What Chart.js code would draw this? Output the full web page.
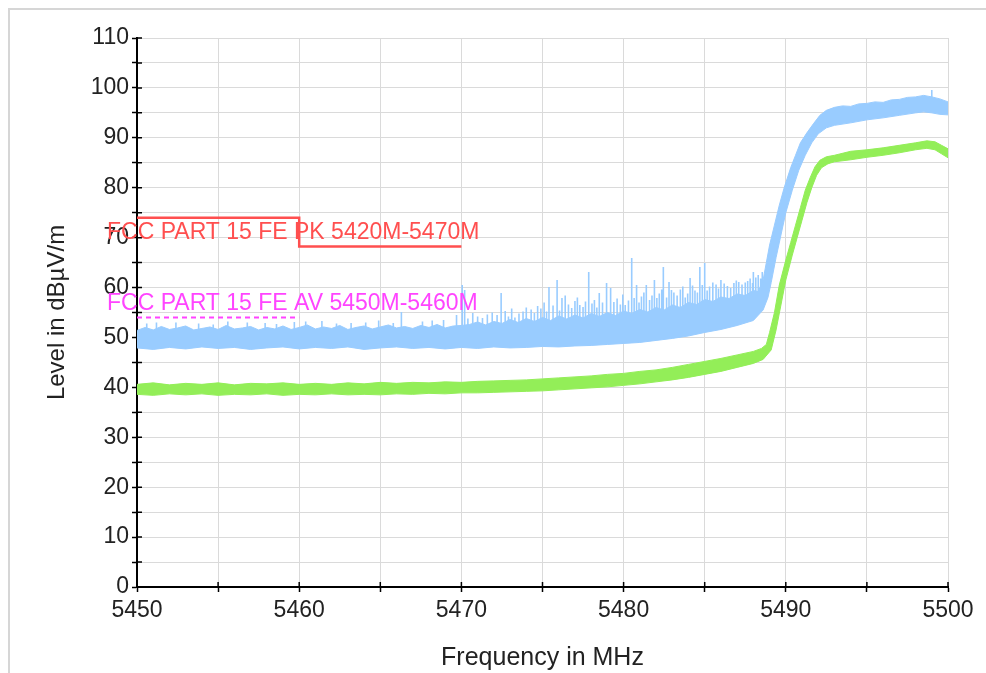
<!DOCTYPE html>
<html>
<head>
<meta charset="utf-8">
<script src="https://cdn.jsdelivr.net/npm/chart.js@4.4.1/dist/chart.umd.min.js"></script>
<style>
  html, body { margin: 0; padding: 0; background: #fff; }
  #wrap { width: 986px; height: 673px; }
</style>
</head>
<body>
<div id="wrap"><canvas id="chart" width="986" height="673"></canvas></div>
<script>
// frequency range and level axis
const freqMin = 5450;
const freqMax = 5500;
const levelMin = 0;
const levelMax = 110;

// limit lines [MHz, dBuV/m]
const pkLimit = [[5450, 74], [5460, 74], [5460, 68.2], [5470, 68.2]];
const avLimit = [[5450, 54], [5460, 54]];
const pkLimitLabel = "FCC PART 15 FE PK 5420M-5470M";
const avLimitLabel = "FCC PART 15 FE AV 5450M-5460M";

// peak trace, top edge of the noise band
const pkUpper = [
    [5450, 51.4], [5450.5, 52.0], [5451, 51.5], [5451.5, 52.2], [5452, 51.6], [5452.5, 51.9],
    [5453, 52.3], [5453.5, 51.5], [5454, 51.8], [5454.5, 52.1], [5455, 51.6], [5455.5, 52.4],
    [5456, 51.7], [5456.5, 51.9], [5457, 52.2], [5457.5, 51.5], [5458, 52.0], [5458.5, 51.7],
    [5459, 52.3], [5459.5, 51.6], [5460, 52.0], [5460.5, 52.5], [5461, 51.7], [5461.5, 52.1],
    [5462, 51.8], [5462.5, 52.4], [5463, 51.6], [5463.5, 52.0], [5464, 52.3], [5464.5, 51.7],
    [5465, 52.1], [5465.5, 52.5], [5466, 51.9], [5466.5, 52.2], [5467, 51.8], [5467.5, 52.4],
    [5468, 52.0], [5468.5, 52.6], [5469, 51.9], [5469.5, 52.3], [5470, 52.4], [5470.5, 52.6],
    [5471, 53.1], [5471.5, 52.5], [5472, 53.2], [5472.5, 52.8], [5473, 53.6], [5473.5, 53.0],
    [5474, 53.8], [5474.5, 53.2], [5475, 54.0], [5475.5, 53.4], [5476, 54.3], [5476.5, 53.7],
    [5477, 54.5], [5477.5, 53.9], [5478, 54.8], [5478.5, 54.2], [5479, 55.0], [5479.5, 54.4],
    [5480, 55.3], [5480.5, 54.8], [5481, 55.6], [5481.5, 55.1], [5482, 56.0], [5482.5, 55.5],
    [5483, 56.5], [5483.5, 56.0], [5484, 57.0], [5484.5, 56.6], [5485, 57.6], [5485.5, 57.2],
    [5486, 58.1], [5486.5, 57.8], [5487, 58.7], [5487.5, 58.4], [5488, 59.4], [5488.3, 59.2],
    [5488.6, 61.5], [5488.8, 65.0], [5489.0, 68.5], [5489.3, 72.5], [5489.6, 76.5], [5489.9, 80.0],
    [5490.3, 84.0], [5490.6, 86.5], [5490.9, 89.0], [5491.3, 91.0], [5491.7, 92.8], [5492.1, 94.5],
    [5492.5, 95.5], [5493, 96.1], [5493.5, 96.4], [5494, 96.3], [5494.5, 96.8], [5495, 96.9],
    [5495.5, 97.2], [5496, 97.1], [5496.5, 97.6], [5497, 97.7], [5497.5, 98.1], [5498, 98.2],
    [5498.5, 98.5], [5499, 98.2], [5499.5, 97.8], [5500, 97.2]
];

// peak trace, bottom edge of the noise band
const pkLower = [
    [5450, 47.9], [5451, 47.6], [5452, 48.0], [5453, 47.7], [5454, 48.1], [5455, 47.8],
    [5456, 48.0], [5457, 47.6], [5458, 47.9], [5459, 48.1], [5460, 47.7], [5461, 48.0],
    [5462, 47.8], [5463, 48.1], [5464, 47.6], [5465, 47.9], [5466, 48.1], [5467, 47.8],
    [5468, 48.0], [5469, 47.7], [5470, 48.0], [5471, 47.8], [5472, 48.1], [5473, 47.9],
    [5474, 48.0], [5475, 48.2], [5476, 48.1], [5477, 48.3], [5478, 48.4], [5479, 48.6],
    [5480, 48.8], [5481, 49.0], [5482, 49.4], [5483, 49.8], [5484, 50.3], [5485, 51.0],
    [5486, 51.6], [5487, 52.4], [5488, 53.4], [5488.6, 55.5], [5488.9, 58.0], [5489.1, 61.0],
    [5489.4, 66.0], [5489.7, 70.5], [5490, 75.0], [5490.4, 79.5], [5490.8, 83.5], [5491.2, 86.5],
    [5491.6, 89.0], [5492, 90.8], [5492.5, 92.0], [5493, 92.5], [5494, 93.0], [5495, 93.6],
    [5496, 94.0], [5497, 94.5], [5498, 95.0], [5498.5, 95.2], [5499, 95.0], [5499.5, 94.7], [5500, 94.6]
];

// single-sweep peaks above the peak band [MHz, band level, peak level]
const pkSpikes = [
    [5450.6, 51, 52.8], [5451.2, 51, 53.0], [5452.4, 51, 53.0], [5453.8, 51, 52.8], [5454.7, 51, 52.6],
    [5455.6, 51, 53.2], [5456.8, 51, 53.0], [5457.9, 51, 52.9], [5458.6, 51, 52.7], [5459.7, 51, 53.1],
    [5460.4, 51, 53.2], [5461.4, 51, 53.3], [5462.3, 51, 52.8], [5463.2, 51, 52.9], [5464.1, 51, 53.0],
    [5464.9, 51, 53.4], [5465.8, 51, 52.9], [5466.3, 51, 55.1], [5467.6, 51, 53.2], [5468.2, 51, 53.4],
    [5468.9, 51, 53.5], [5469.7, 51, 54.5], [5470.05, 51, 60.5], [5470.2, 51, 59.5], [5470.4, 51, 53.8],
    [5470.7, 51, 54.9], [5471.0, 51, 54.2], [5471.3, 51, 53.9], [5471.6, 51, 54.6], [5471.9, 51, 55.0],
    [5472.2, 51, 54.5], [5472.45, 51, 58.9], [5472.7, 51, 55.3], [5472.9, 51, 54.2], [5473.1, 52, 55.8],
    [5473.3, 51, 54.0], [5473.55, 52, 54.8], [5473.8, 52, 55.2], [5474.0, 52, 56.0], [5474.3, 52, 55.6],
    [5474.5, 52, 54.9], [5474.7, 52, 56.3], [5474.9, 52, 55.8], [5475.1, 52, 57.0], [5475.25, 52, 55.2],
    [5475.4, 52, 60.1], [5475.65, 52, 56.4], [5475.9, 52, 61.5], [5476.05, 52, 55.4], [5476.2, 52, 57.9],
    [5476.4, 52, 58.4], [5476.6, 52, 56.6], [5476.8, 52, 55.9], [5477.0, 52, 57.3], [5477.15, 52, 58.0],
    [5477.3, 52, 56.5], [5477.5, 52, 56.1], [5477.65, 52, 57.2], [5477.85, 52, 63.1], [5478.05, 52, 56.8],
    [5478.2, 52, 57.5], [5478.35, 52, 56.0], [5478.5, 52, 58.9], [5478.7, 52, 57.0], [5478.95, 52, 60.9],
    [5479.2, 52, 59.9], [5479.4, 53, 57.1], [5479.6, 53, 57.8], [5479.8, 53, 56.6], [5479.95, 53, 58.6],
    [5480.1, 53, 56.5], [5480.3, 53, 57.4], [5480.5, 53, 65.9], [5480.65, 53, 57.9], [5480.8, 53, 60.5],
    [5480.95, 53, 57.0], [5481.1, 53, 58.2], [5481.25, 53, 59.0], [5481.4, 53, 60.5], [5481.6, 53, 57.5],
    [5481.75, 53, 58.4], [5481.9, 53, 61.5], [5482.05, 53, 57.9], [5482.2, 53, 58.8], [5482.35, 53, 59.6],
    [5482.45, 53, 64.1], [5482.65, 53, 58.0], [5482.8, 53, 61.1], [5482.95, 54, 59.5], [5483.1, 54, 59.0],
    [5483.3, 54, 58.4], [5483.5, 54, 59.6], [5483.65, 54, 60.2], [5483.8, 54, 58.0], [5483.95, 54, 58.8],
    [5484.1, 54, 61.9], [5484.25, 54, 60.4], [5484.4, 54, 59.4], [5484.55, 54, 59.0], [5484.7, 54, 64.1],
    [5484.85, 54, 60.5], [5485.0, 54, 64.9], [5485.15, 55, 59.4], [5485.3, 55, 60.2], [5485.5, 55, 61.0],
    [5485.7, 55, 60.6], [5485.85, 55, 59.8], [5486.0, 55, 61.5], [5486.2, 55, 60.8], [5486.4, 55, 60.3],
    [5486.6, 55, 59.9], [5486.8, 55, 60.9], [5486.95, 55, 61.4], [5487.1, 55, 61.1], [5487.3, 56, 60.6],
    [5487.5, 56, 61.0], [5487.65, 56, 61.3], [5487.8, 56, 61.8], [5487.95, 56, 60.9], [5488.0, 56, 63.1],
    [5488.15, 56, 62.0], [5488.3, 56, 62.5], [5488.45, 57, 61.8], [5488.55, 57, 63.1], [5499.0, 96, 99.6]
];

// average trace, top edge
const avUpper = [
    [5450, 40.6], [5451, 40.9], [5452, 40.5], [5453, 40.8], [5454, 40.6], [5455, 40.9],
    [5456, 40.5], [5457, 40.8], [5458, 40.7], [5459, 40.9], [5460, 40.6], [5461, 40.8],
    [5462, 40.6], [5463, 40.9], [5464, 40.7], [5465, 41.0], [5466, 40.8], [5467, 41.0],
    [5468, 40.9], [5469, 41.1], [5470, 41.0], [5471, 41.2], [5472, 41.3], [5473, 41.4],
    [5474, 41.5], [5475, 41.7], [5476, 41.9], [5477, 42.1], [5478, 42.3], [5479, 42.6],
    [5480, 42.8], [5481, 43.2], [5482, 43.5], [5483, 44.0], [5484, 44.6], [5485, 45.2],
    [5486, 45.8], [5487, 46.5], [5488, 47.2], [5488.5, 47.8], [5488.8, 48.6], [5489.0, 51.0],
    [5489.3, 55.0], [5489.6, 60.5], [5490.0, 65.5], [5490.3, 69.0], [5490.6, 72.5], [5490.9, 76.0],
    [5491.2, 79.5], [5491.5, 82.0], [5491.8, 84.2], [5492.1, 85.5], [5492.5, 86.2], [5493, 86.5],
    [5494, 87.3], [5495, 87.6], [5496, 88.0], [5497, 88.5], [5498, 89.0], [5498.7, 89.4],
    [5499.2, 89.2], [5499.6, 88.5], [5500, 87.8]
];

// average trace, bottom edge
const avLower = [
    [5450, 38.6], [5451, 38.4], [5452, 38.7], [5453, 38.5], [5454, 38.7], [5455, 38.4],
    [5456, 38.6], [5457, 38.5], [5458, 38.7], [5459, 38.4], [5460, 38.6], [5461, 38.5],
    [5462, 38.7], [5463, 38.5], [5464, 38.6], [5465, 38.5], [5466, 38.7], [5467, 38.6],
    [5468, 38.8], [5469, 38.7], [5470, 38.9], [5471, 38.9], [5472, 39.0], [5473, 39.1],
    [5474, 39.2], [5475, 39.3], [5476, 39.5], [5477, 39.7], [5478, 39.9], [5479, 40.1],
    [5480, 40.4], [5481, 40.7], [5482, 41.1], [5483, 41.5], [5484, 42.0], [5485, 42.6],
    [5486, 43.2], [5487, 44.0], [5488, 44.8], [5488.6, 45.6], [5489.1, 47.5], [5489.4, 51.5],
    [5489.7, 56.5], [5490.0, 61.5], [5490.4, 66.5], [5490.7, 70.0], [5491, 73.5], [5491.3, 77.0],
    [5491.6, 80.0], [5491.9, 82.5], [5492.2, 84.0], [5492.6, 84.8], [5493, 85.2], [5494, 85.6],
    [5495, 86.1], [5496, 86.5], [5497, 87.0], [5498, 87.6], [5498.7, 87.9], [5499.2, 87.6],
    [5499.6, 86.8], [5500, 86.0]
];

const FONT = "'Liberation Sans', Arial, sans-serif";
const PK_BLUE = "#99ccff";
const AV_GREEN = "#93ee58";
const LIMIT_RED = "#ff4f4f";
const LIMIT_PINK = "#ff44ff";

// spikes become vertical strokes, broken apart by empty points
const spikePoints = [];
pkSpikes.forEach(([f, base, top]) => {
    spikePoints.push({ x: f, y: base }, { x: f, y: top }, { x: f, y: null });
});

// light grey frame around the whole panel
const framePlugin = {
    id: "frame",
    beforeDraw(chart) {
        const c = chart.ctx;
        c.save();
        c.fillStyle = "#fff";
        c.fillRect(0, 0, chart.width, chart.height);
        c.strokeStyle = "#d6d6d6";
        c.lineWidth = 2;
        c.strokeRect(9, 9, chart.width + 20, chart.height + 20);
        c.restore();
    }
};

// tick marks cross the axis, so add the inner half
const innerTicks = {
    id: "innerTicks",
    beforeDatasetsDraw(chart) {
        const c = chart.ctx;
        const x = chart.scales.x, y = chart.scales.y;
        const area = chart.chartArea;
        c.save();
        c.strokeStyle = "#000";
        c.lineWidth = 1.5;
        c.beginPath();
        x.ticks.forEach(t => {
            const px = x.getPixelForValue(t.value);
            c.moveTo(px, area.bottom);
            c.lineTo(px, area.bottom - 5);
        });
        y.ticks.forEach(t => {
            const py = y.getPixelForValue(t.value);
            c.moveTo(area.left, py);
            c.lineTo(area.left + 5, py);
        });
        c.stroke();
        c.restore();
    }
};

// names of the limit lines
const limitLabels = {
    id: "limitLabels",
    afterDatasetsDraw(chart) {
        const c = chart.ctx;
        const x = chart.scales.x, y = chart.scales.y;
        const left = x.getPixelForValue(freqMin) - 30;
        c.save();
        c.font = "23px " + FONT;
        c.textAlign = "left";
        c.textBaseline = "alphabetic";
        c.fillStyle = LIMIT_RED;
        c.fillText(pkLimitLabel, left, y.getPixelForValue(pkLimit[0][1]) + 21);
        c.fillStyle = LIMIT_PINK;
        c.fillText(avLimitLabel, left, y.getPixelForValue(avLimit[0][1]) - 7);
        c.restore();
    }
};

const line = (data, color, extra) => Object.assign({
    data: data,
    borderColor: color,
    backgroundColor: color,
    borderWidth: 1,
    pointRadius: 0,
    tension: 0,
    fill: false
}, extra || {});

new Chart(document.getElementById("chart"), {
    type: "line",
    data: {
        datasets: [
            line(pkLimit, LIMIT_RED, { borderWidth: 2.5 }),
            line(avLimit, LIMIT_PINK, { borderWidth: 2, borderDash: [5, 4] }),
            line(pkLower, PK_BLUE),
            line(pkUpper, PK_BLUE, { fill: "-1" }),
            line(spikePoints, PK_BLUE, { borderWidth: 1.6, spanGaps: false }),
            line(avLower, AV_GREEN),
            line(avUpper, AV_GREEN, { fill: "-1" })
        ]
    },
    options: {
        responsive: false,
        animation: false,
        events: [],
        layout: { padding: { left: 0, right: 38, top: 38, bottom: 0 } },
        plugins: {
            legend: { display: false },
            tooltip: { enabled: false }
        },
        scales: {
            x: {
                type: "linear",
                min: freqMin,
                max: freqMax,
                afterFit: s => { s.height = 86; },
                ticks: {
                    stepSize: 5,
                    autoSkip: false,
                    maxRotation: 0,
                    padding: 5,
                    color: "#222",
                    font: { family: FONT, size: 23 },
                    callback: v => (v % 10 === 0 ? String(v) : "")
                },
                grid: { color: "#dadada", lineWidth: 1, tickColor: "#000", tickLength: 5, tickWidth: 1.5 },
                border: { display: true, color: "#000", width: 2 },
                title: {
                    display: true,
                    text: "Frequency in MHz",
                    color: "#222",
                    font: { family: FONT, size: 25 },
                    padding: { top: 0, bottom: 0 }
                }
            },
            y: {
                min: levelMin,
                max: levelMax,
                afterFit: s => { s.width = 137; },
                ticks: {
                    stepSize: 5,
                    autoSkip: false,
                    padding: 3,
                    color: "#222",
                    font: { family: FONT, size: 23 },
                    callback: v => (v % 10 === 0 ? String(v) : "")
                },
                grid: { color: "#dadada", lineWidth: 1, tickColor: "#000", tickLength: 5, tickWidth: 1.5 },
                border: { display: true, color: "#000", width: 2 },
                title: {
                    display: true,
                    text: "Level in dBµV/m",
                    color: "#222",
                    font: { family: FONT, size: 24 },
                    padding: { top: 43, bottom: 0 }
                }
            }
        }
    },
    plugins: [framePlugin, innerTicks, limitLabels]
});
</script>
</body>
</html>
